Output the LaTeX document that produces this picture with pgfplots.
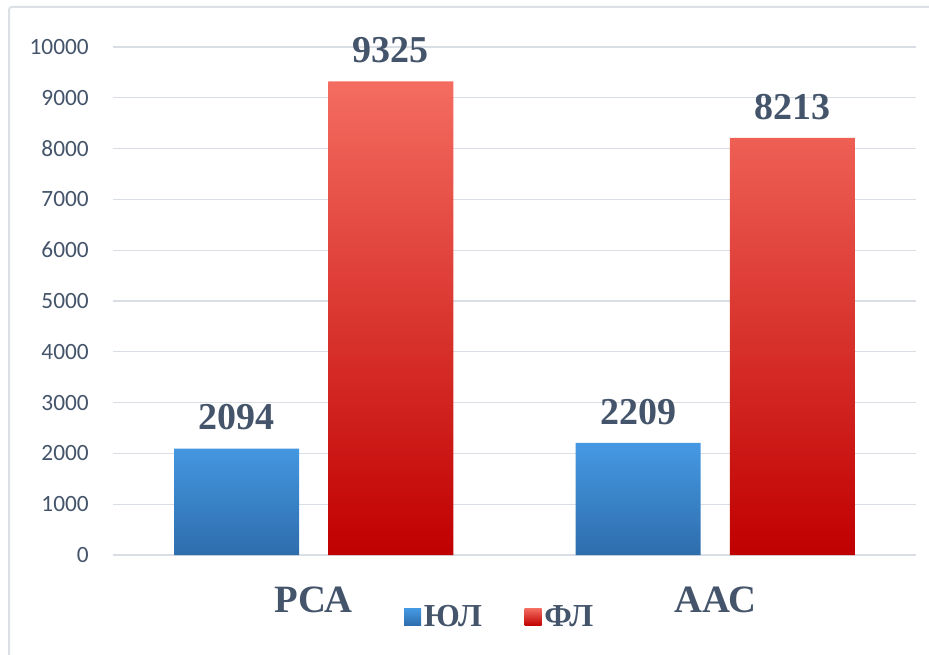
\documentclass[border=0pt]{standalone}
\usepackage{fontspec}
\setmainfont{Liberation Serif}
\newfontfamily\carlito{Carlito}
\usepackage{pgfplots}
\pgfplotsset{compat=1.18}
\definecolor{txt}{HTML}{44546A}
\definecolor{gridc}{HTML}{D9DEE5}
\definecolor{framec}{HTML}{DDE1E6}
\definecolor{btop}{HTML}{4599E3}
\definecolor{bbot}{HTML}{2E6DAC}
\definecolor{rtop}{HTML}{F46C60}
\definecolor{rbot}{HTML}{C00000}
\begin{document}
\begin{tikzpicture}
\path[use as bounding box] (0pt,0pt) rectangle (696.75pt,490.5pt);
\draw[framec, line width=1.5pt, rounded corners=2pt] (6.75pt,-10pt) -- (6.75pt,485.25pt) -- (710pt,485.25pt);
\begin{axis}[
  at={(84.75pt,74.25pt)}, anchor=south west,
  scale only axis, width=602.25pt, height=381pt,
  ybar=0pt,
  xmin=-0.5, xmax=1.5, ymin=0, ymax=10000,
  xtick={0,1}, xticklabels={РСА,ААС},
  ytick={0,1000,...,10000},
  scaled y ticks=false,
  /pgf/number format/assume math mode=true,
  /pgf/number format/1000 sep={},
  axis line style={draw=none},
  major tick length=0pt,
  ymajorgrids, grid style={gridc, line width=1pt},
  yticklabel style={font=\carlito\fontsize{17.5}{20}\selectfont, text=txt, inner sep=0pt, xshift=-18pt},
  xticklabel style={font=\bfseries\fontsize{29}{32}\selectfont, text=txt, inner sep=0pt, yshift=-24pt},
  bar width=0.311,
  nodes near coords,
  every node near coord/.append style={font=\bfseries\fontsize{28.5}{30}\selectfont, text=txt, anchor=south, inner sep=0pt, yshift=13.5pt},
  legend columns=2,
  legend style={at={(0.482,-0.122)}, anchor=center, draw=none, fill=none,
    font=\bfseries\fontsize{24}{26}\selectfont, text=txt,
    /tikz/every even column/.append style={column sep=30pt}},
  legend image code/.code={\path[#1, draw=none] (0pt,-6.4pt) rectangle (12.75pt,6.4pt);},
]
\addplot[bar shift=-0.192, draw=none, top color=btop, bottom color=bbot] coordinates {(0,2094) (1,2209)};
\addlegendentry{ЮЛ}
\addplot[bar shift=0.192, draw=none, top color=rtop, bottom color=rbot] coordinates {(0,9325) (1,8213)};
\addlegendentry{ФЛ}
\end{axis}
\end{tikzpicture}
\end{document}
